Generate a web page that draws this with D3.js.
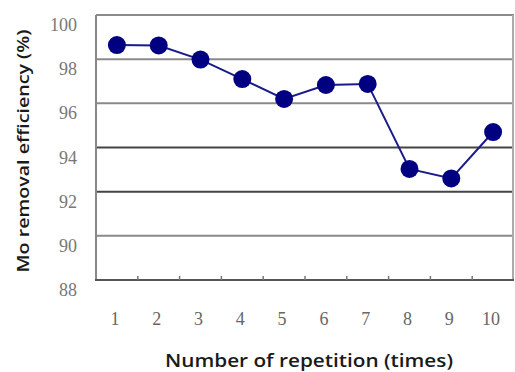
<!DOCTYPE html>
<html>
<head>
<meta charset="utf-8">
<script src="https://cdn.jsdelivr.net/npm/d3@7"></script>
<style>
  body { margin: 0; background: #fff; }
  svg { display: block; }
</style>
</head>
<body>
<svg id="chart"></svg>
<script>
var width = 515;
var height = 372;

// data
var repetitions = ["1", "2", "3", "4", "5", "6", "7", "8", "9", "10"];
var efficiency = [98.64, 98.62, 97.98, 97.1, 96.2, 96.83, 96.88, 93.03, 92.6, 94.7];
var yTicks = [88, 90, 92, 94, 96, 98, 100];

var plot = {left: 96, right: 514, top: 15, bottom: 280};

var svg = d3.select("#chart")
    .attr("width", width)
    .attr("height", height);

var x = d3.scaleBand()
    .domain(repetitions)
    .range([plot.left, plot.right]);

var y = d3.scaleLinear()
    .domain([88, 100])
    .range([plot.bottom, plot.top]);

// horizontal gridlines
svg.selectAll(".grid")
    .data(yTicks.slice(1))
    .enter()
    .append("line")
    .attr("x1", plot.left)
    .attr("x2", plot.right)
    .attr("y1", function (d) { return y(d); })
    .attr("y2", function (d) { return y(d); })
    .attr("stroke", function (d) { return (d === 94 || d === 92) ? "#444" : "#8a8a8a"; })
    .attr("stroke-width", 2);

// plot frame
svg.append("line")
    .attr("x1", plot.left).attr("x2", plot.left)
    .attr("y1", plot.top).attr("y2", plot.bottom)
    .attr("stroke", "#888").attr("stroke-width", 2);
svg.append("line")
    .attr("x1", plot.right - 1).attr("x2", plot.right - 1)
    .attr("y1", plot.top).attr("y2", plot.bottom)
    .attr("stroke", "#aaa").attr("stroke-width", 2);

// bottom axis with inward ticks at category boundaries
var bottomAxis = svg.append("g")
    .attr("transform", "translate(0," + plot.bottom + ")");
bottomAxis.append("line")
    .attr("x1", plot.left - 1).attr("x2", plot.right)
    .attr("stroke", "#555").attr("stroke-width", 2);
bottomAxis.selectAll(".tick")
    .data(repetitions.slice(1))
    .enter()
    .append("line")
    .attr("x1", function (d) { return x(d); })
    .attr("x2", function (d) { return x(d); })
    .attr("y1", 0)
    .attr("y2", -4)
    .attr("stroke", "#777")
    .attr("stroke-width", 1.5);

// x tick labels
svg.selectAll(".xlabel")
    .data(repetitions)
    .enter()
    .append("text")
    .attr("x", function (d) { return x(d) + x.bandwidth() / 2 - 2; })
    .attr("y", 325)
    .attr("text-anchor", "middle")
    .style("font-family", "'Liberation Serif', serif")
    .style("font-size", "18px")
    .style("fill", "#666")
    .text(function (d) { return d; });

// y tick labels (sit a bit below their gridline, as in the original)
svg.selectAll(".ylabel")
    .data(yTicks)
    .enter()
    .append("text")
    .attr("x", 77)
    .attr("y", function (d) { return y(d) + 16; })
    .attr("text-anchor", "end")
    .style("font-family", "'Liberation Serif', serif")
    .style("font-size", "18px")
    .style("fill", "#777")
    .text(function (d) { return d; });

// series line
var line = d3.line()
    .x(function (d, i) { return x(repetitions[i]) + x.bandwidth() / 2; })
    .y(function (d) { return y(d); });

svg.append("path")
    .datum(efficiency)
    .attr("d", line)
    .attr("fill", "none")
    .attr("stroke", "#1a1a8c")
    .attr("stroke-width", 2);

svg.selectAll(".dot")
    .data(efficiency)
    .enter()
    .append("circle")
    .attr("cx", function (d, i) { return x(repetitions[i]) + x.bandwidth() / 2; })
    .attr("cy", function (d) { return y(d); })
    .attr("r", 9)
    .style("fill", "#000080");

// axis titles
svg.append("text")
    .attr("transform", "translate(29,151) rotate(-90)")
    .attr("text-anchor", "middle")
    .attr("textLength", 243)
    .attr("lengthAdjust", "spacingAndGlyphs")
    .style("font-family", "'Open Sans', sans-serif")
    .style("font-weight", "600")
    .style("font-size", "17px")
    .style("fill", "#1a1a1a")
    .text("Mo removal efficiency (%)");

svg.append("text")
    .attr("x", 309)
    .attr("y", 367)
    .attr("text-anchor", "middle")
    .attr("textLength", 288)
    .attr("lengthAdjust", "spacingAndGlyphs")
    .style("font-family", "'Open Sans', sans-serif")
    .style("font-weight", "600")
    .style("font-size", "18px")
    .style("fill", "#1a1a1a")
    .text("Number of repetition (times)");
</script>
</body>
</html>
